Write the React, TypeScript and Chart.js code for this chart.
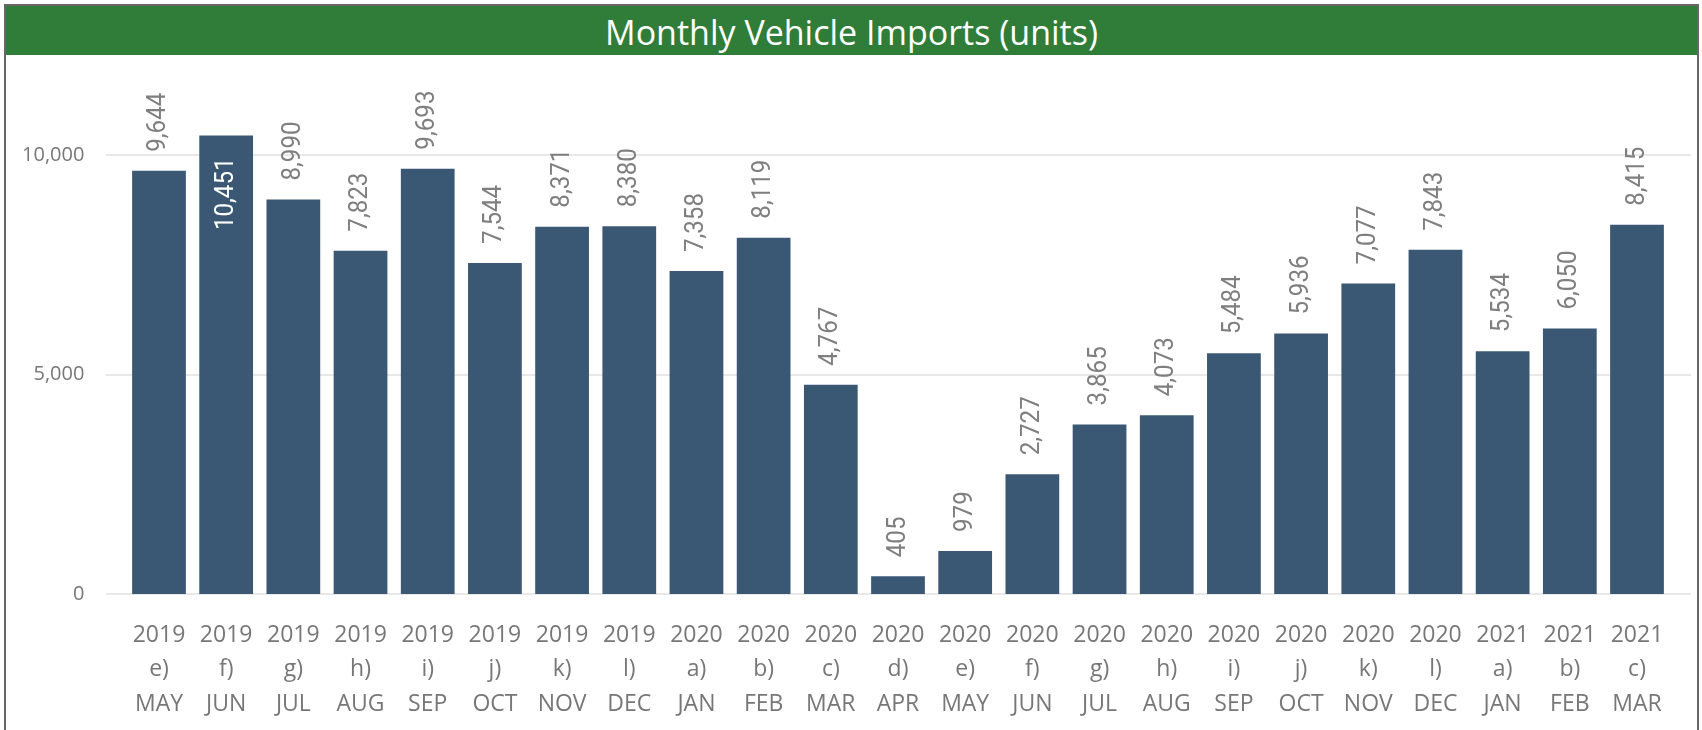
import React, { useEffect, useRef } from 'react';
import { Chart, registerables } from 'chart.js';

Chart.register(...registerables);

const years = ['2019','2019','2019','2019','2019','2019','2019','2019','2020','2020','2020','2020','2020','2020','2020','2020','2020','2020','2020','2020','2021','2021','2021'];
const letters = ['e)','f)','g)','h)','i)','j)','k)','l)','a)','b)','c)','d)','e)','f)','g)','h)','i)','j)','k)','l)','a)','b)','c)'];
const months = ['MAY','JUN','JUL','AUG','SEP','OCT','NOV','DEC','JAN','FEB','MAR','APR','MAY','JUN','JUL','AUG','SEP','OCT','NOV','DEC','JAN','FEB','MAR'];
const imports = [9644,10451,8990,7823,9693,7544,8371,8380,7358,8119,4767,405,979,2727,3865,4073,5484,5936,7077,7843,5534,6050,8415];
const yTicks = [0, 5000, 10000];
const title = 'Monthly Vehicle Imports (units)';

export default function App() {
  const ref = useRef<HTMLCanvasElement>(null);

  useEffect(() => {
    document.body.style.margin = '0';
    const canvas = ref.current;
    if (!canvas) return;

    const gridPlugin = {
      id: 'extGrid',
      beforeDatasetsDraw(chart: any) {
        const ctx = chart.ctx;
        const ys = chart.scales.y;
        ctx.save();
        ctx.strokeStyle = '#e8e8e8';
        ctx.lineWidth = 2;
        yTicks.forEach((t) => {
          const py = Math.round(ys.getPixelForValue(t));
          ctx.beginPath();
          ctx.moveTo(100, py);
          ctx.lineTo(1685, py);
          ctx.stroke();
        });
        ctx.restore();
      },
    };

    const squeeze = 0.93;
    const labelPlugin = {
      id: 'valueLabels',
      afterDatasetsDraw(chart: any) {
        const ctx = chart.ctx;
        const meta = chart.getDatasetMeta(0);
        const top = chart.chartArea.top;
        ctx.save();
        ctx.font = '26px Roboto';
        meta.data.forEach((bar: any, i: number) => {
          const txt = imports[i].toLocaleString('en-US');
          const w = ctx.measureText(txt).width * squeeze;
          const outside = bar.y - 19 - w >= top;
          ctx.save();
          ctx.translate(bar.x, outside ? bar.y - 19 : bar.y + 22);
          ctx.rotate(-Math.PI / 2);
          ctx.scale(squeeze, 1);
          ctx.textAlign = outside ? 'left' : 'right';
          ctx.textBaseline = 'middle';
          ctx.fillStyle = outside ? '#7f7f7f' : '#ffffff';
          ctx.fillText(txt, 0, 0);
          ctx.restore();
        });
        ctx.restore();
      },
    };

    const chart = new Chart(canvas, {
      type: 'bar',
      data: {
        labels: years.map((y, i) => [y, letters[i], months[i]]),
        datasets: [
          {
            data: imports,
            backgroundColor: '#3a5874',
            barPercentage: 0.8,
            categoryPercentage: 1,
          },
        ],
      },
      options: {
        animation: false,
        responsive: false,
        devicePixelRatio: 1,
        layout: { padding: { left: 0, right: 25.4, top: 12.4, bottom: 0 } },
        plugins: { legend: { display: false }, tooltip: { enabled: false } },
        scales: {
          x: {
            grid: { display: false, drawTicks: false },
            border: { display: false },
            ticks: {
              color: '#777777',
              font: { family: 'Open Sans', size: 23, lineHeight: 1.5 },
              padding: 24,
              maxRotation: 0,
              autoSkip: false,
            },
            afterFit: (s: any) => {
              s.height = 136;
              s.paddingLeft = 0; s.paddingRight = 0; s.paddingTop = 0; s.paddingBottom = 0;
            },
          },
          y: {
            min: 0,
            max: 12000,
            grid: { display: false, drawTicks: false },
            border: { display: false },
            ticks: {
              color: '#777777',
              font: { family: 'Open Sans', size: 20 },
              padding: 41,
              callback: (v: any) => Number(v).toLocaleString('en-US'),
            },
            afterBuildTicks: (s: any) => { s.ticks = yTicks.map((v) => ({ value: v })); },
            afterFit: (s: any) => {
              s.width = 119.4;
              s.paddingLeft = 0; s.paddingRight = 0; s.paddingTop = 0; s.paddingBottom = 0;
            },
          },
        },
      },
      plugins: [gridPlugin, labelPlugin],
    });

    return () => chart.destroy();
  }, []);

  return (
    <div style={{ position: 'relative', width: 1702, height: 730, overflow: 'hidden', background: '#ffffff' }}>
      <div
        style={{
          position: 'absolute', left: 4, top: 4, width: 1695, height: 740,
          border: '2px solid #666666', boxSizing: 'border-box',
        }}
      />
      <div
        style={{
          position: 'absolute', left: 6, top: 6, width: 1691, height: 49,
          background: '#2f7d38', color: '#ffffff', fontFamily: 'Open Sans',
          fontSize: 34, lineHeight: '52px', textAlign: 'center',
        }}
      >
        {title}
      </div>
      <canvas ref={ref} width={1690} height={675} style={{ position: 'absolute', left: 6, top: 55, width: 1690, height: 675 }} />
    </div>
  );
}
